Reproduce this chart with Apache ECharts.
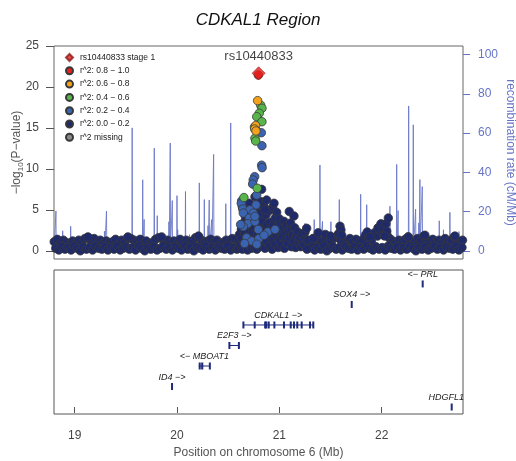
<!DOCTYPE html>
<html>
<head>
<meta charset="utf-8">
<script src="https://cdn.jsdelivr.net/npm/echarts@6/dist/echarts.min.js"></script>
<style>html,body{margin:0;padding:0;background:#fff}#c{width:516px;height:461px}</style>
</head>
<body>
<div id="c"></div>
<script>
// ---------- data ----------
const chartTitle = 'CDKAL1 Region';
const leadSnp = 'rs10440833';
const leadLegend = 'rs10440833 stage 1';
const xTicks = [19, 20, 21, 22];
const yTicks = [0, 5, 10, 15, 20, 25];
const recTicks = [0, 20, 40, 60, 80, 100];
const legendNames = ['r^2: 0.8 \u2212 1.0', 'r^2: 0.6 \u2212 0.8', 'r^2: 0.4 \u2212 0.6', 'r^2: 0.2 \u2212 0.4', 'r^2: 0.0 \u2212 0.2', 'r^2 missing'];

// recombination rate (cM/Mb) along position (Mb)
const recombPos = [18.800,18.814,18.817,18.820,18.880,18.883,18.886,18.958,18.961,18.964,19.288,19.291,19.294,19.308,19.311,19.314,19.559,19.562,19.565,19.662,19.665,19.668,19.676,19.679,19.682,19.708,19.711,19.714,19.775,19.778,19.781,19.804,19.807,19.810,19.918,19.921,19.924,19.931,19.934,19.937,19.951,19.954,19.957,19.997,20.000,20.003,20.007,20.010,20.080,20.083,20.086,20.119,20.122,20.125,20.215,20.218,20.221,20.264,20.267,20.270,20.300,20.303,20.306,20.312,20.315,20.318,20.336,20.339,20.342,20.355,20.358,20.361,20.474,20.477,20.480,20.522,20.525,20.528,20.588,20.591,20.594,20.700,20.900,21.100,21.248,21.251,21.254,21.303,21.306,21.309,21.338,21.341,21.344,21.394,21.397,21.400,21.419,21.422,21.425,21.436,21.439,21.442,21.465,21.468,21.471,21.501,21.504,21.507,21.583,21.586,21.589,21.792,21.795,21.798,21.851,21.854,21.857,21.915,21.918,21.921,22.078,22.081,22.084,22.144,22.147,22.150,22.158,22.161,22.164,22.261,22.264,22.267,22.306,22.309,22.312,22.329,22.332,22.335,22.360,22.363,22.366,22.371,22.374,22.377,22.394,22.397,22.400,22.560,22.563,22.566,22.601,22.604,22.607,22.664,22.667,22.670,22.752,22.755,22.758,22.795];
const recombRate = [0.5,0.6,20.3,0.4,0.5,10.2,0.6,0.4,12.5,0.5,0.7,10.0,0.8,0.6,20.2,0.5,0.8,62.6,0.7,0.9,36.2,1.5,1.2,16.0,0.8,0.6,6.8,0.5,0.9,52.3,1.0,0.8,17.9,0.6,0.7,14.8,1.0,1.1,54.9,1.3,1.0,25.6,0.9,0.8,28.1,2.0,10.7,0.7,0.9,30.2,0.8,0.6,8.2,0.5,0.9,34.6,0.8,0.7,26.1,0.9,0.8,12.8,1.2,1.5,25.9,1.1,0.9,15.9,1.4,1.2,49.1,0.9,0.7,24.0,0.8,0.9,65.1,1.0,0.6,14.5,0.5,0.3,0.4,0.5,0.6,14.0,0.7,0.5,6.3,0.6,0.8,15.9,1.0,1.1,43.7,1.2,0.9,15.0,1.1,0.8,9.4,0.7,0.9,10.0,0.8,0.7,14.8,0.9,1.0,26.1,0.8,0.9,28.8,1.1,0.8,23.5,0.7,0.6,8.9,0.7,1.0,22.7,1.2,1.3,44.0,2.0,1.8,20.5,1.1,1.5,73.8,2.2,1.8,64.2,2.0,1.7,21.2,1.4,1.2,14.2,1.9,2.2,36.3,2.5,2.0,32.7,1.3,0.9,15.3,1.0,0.8,10.7,0.9,1.1,19.6,0.8,0.7,9.8,0.6,0.5];

// SNPs, r^2 0.0-0.2 (navy): [position Mb, -log10 P]
const navyUpper = [[18.80,1.1],[18.83,1.4],[18.86,0.9],[18.89,1.3],[18.92,1.0],[18.95,0.8],[18.98,1.2],[19.01,1.0],[19.04,1.3],[19.07,0.9],[19.10,1.5],[19.13,1.6],[19.16,1.2],[19.19,1.5],[19.22,1.0],[19.25,1.3],[19.28,0.9],[19.31,1.2],[19.34,1.0],[19.37,1.1],[19.40,1.4],[19.43,0.8],[19.46,1.3],[19.49,1.0],[19.52,1.6],[19.55,1.5],[19.58,1.3],[19.61,1.1],[19.64,1.4],[19.67,1.0],[19.70,1.2],[19.73,0.9],[19.76,1.0],[19.79,1.4],[19.82,1.6],[19.85,1.5],[19.88,1.1],[19.91,1.3],[19.94,1.0],[19.97,1.2],[20.00,0.9],[20.03,1.4],[20.06,1.0],[20.09,1.3],[20.12,1.1],[20.15,1.2],[20.18,1.6],[20.21,1.7],[20.24,1.3],[20.27,1.0],[20.30,1.2],[20.33,1.4],[20.36,1.1],[20.39,1.3],[20.42,0.9],[20.45,1.0],[20.48,1.3],[20.51,1.2],[20.54,1.5],[20.57,1.4],[21.30,1.2],[21.33,1.5],[21.36,1.0],[21.39,1.3],[21.42,1.1],[21.45,1.4],[21.48,1.0],[21.51,1.2],[21.54,1.6],[21.57,1.9],[21.60,1.3],[21.63,1.2],[21.66,1.0],[21.69,1.5],[21.72,1.1],[21.75,1.4],[21.78,1.0],[21.81,1.3],[21.84,1.9],[21.87,1.6],[21.90,1.2],[21.93,2.2],[21.96,1.8],[21.99,2.4],[22.02,1.9],[22.05,2.0],[22.08,1.5],[22.11,1.2],[22.14,1.0],[22.17,1.3],[22.20,1.1],[22.23,1.4],[22.26,1.7],[22.29,1.2],[22.32,1.0],[22.35,1.5],[22.38,1.2],[22.41,1.8],[22.44,1.3],[22.47,1.0],[22.50,1.4],[22.53,1.1],[22.56,1.3],[22.59,1.0],[22.62,1.5],[22.65,1.2],[22.68,1.3],[22.71,1.7],[22.74,1.2],[22.77,1.0],[22.79,1.3]];
const navyLower = [[18.815,0.3],[18.845,0.1],[18.875,0.5],[18.905,0.2],[18.935,0.4],[18.965,0.1],[18.995,0.6],[19.025,0.3],[19.055,0.0],[19.085,0.5],[19.115,0.2],[19.145,0.4],[19.175,0.1],[19.205,0.6],[19.235,0.3],[19.265,0.2],[19.295,0.5],[19.325,0.1],[19.355,0.4],[19.385,0.2],[19.415,0.6],[19.445,0.1],[19.475,0.3],[19.505,0.5],[19.535,0.2],[19.565,0.4],[19.595,0.1],[19.625,0.6],[19.655,0.3],[19.685,0.0],[19.715,0.4],[19.745,0.2],[19.775,0.5],[19.805,0.1],[19.835,0.3],[19.865,0.6],[19.895,0.2],[19.925,0.4],[19.955,0.1],[19.985,0.5],[20.015,0.3],[20.045,0.1],[20.075,0.6],[20.105,0.2],[20.135,0.4],[20.165,0.0],[20.195,0.5],[20.225,0.3],[20.255,0.1],[20.285,0.6],[20.315,0.2],[20.345,0.4],[20.375,0.1],[20.405,0.5],[20.435,0.3],[20.465,0.2],[20.495,0.6],[20.525,0.1],[20.555,0.4],[20.585,0.2],[21.285,0.3],[21.315,0.5],[21.345,0.1],[21.375,0.4],[21.405,0.2],[21.435,0.6],[21.465,0.0],[21.495,0.3],[21.525,0.5],[21.555,0.2],[21.585,0.4],[21.615,0.1],[21.645,0.6],[21.675,0.3],[21.705,0.2],[21.735,0.5],[21.765,0.1],[21.795,0.4],[21.825,0.2],[21.855,0.6],[21.885,0.3],[21.915,0.1],[21.945,0.5],[21.975,0.2],[22.005,0.4],[22.035,0.1],[22.065,0.6],[22.095,0.3],[22.125,0.2],[22.155,0.5],[22.185,0.1],[22.215,0.4],[22.245,0.2],[22.275,0.6],[22.305,0.3],[22.335,0.0],[22.365,0.4],[22.395,0.2],[22.425,0.5],[22.455,0.1],[22.485,0.3],[22.515,0.6],[22.545,0.2],[22.575,0.4],[22.605,0.1],[22.635,0.5],[22.665,0.3],[22.695,0.2],[22.725,0.6],[22.755,0.1],[22.785,0.4]];
const navyPeak = [[20.60,1.2],[20.60,0.3],[20.61,2.0],[20.62,0.8],[20.63,2.6],[20.63,1.5],[20.64,0.2],[20.65,3.4],[20.65,1.0],[20.66,2.2],[20.67,0.5],[20.67,4.1],[20.68,1.7],[20.69,2.9],[20.69,0.1],[20.70,3.8],[20.70,1.3],[20.71,2.4],[20.71,0.6],[20.72,4.5],[20.72,1.9],[20.73,3.1],[20.73,0.3],[20.74,5.2],[20.74,2.5],[20.75,1.1],[20.75,3.9],[20.76,0.4],[20.76,2.8],[20.77,4.8],[20.77,1.6],[20.78,3.4],[20.78,0.2],[20.79,5.6],[20.79,2.1],[20.80,1.0],[20.80,4.2],[20.81,3.0],[20.81,0.5],[20.82,6.0],[20.82,1.8],[20.83,4.6],[20.83,2.7],[20.84,0.9],[20.84,3.6],[20.85,5.4],[20.85,1.4],[20.86,2.5],[20.86,0.3],[20.87,4.4],[20.876,6.2],[20.88,3.2],[20.88,1.1],[20.89,2.0],[20.90,4.9],[20.90,0.6],[20.91,3.5],[20.92,1.7],[20.92,2.8],[20.935,5.3],[20.93,0.2],[20.941,3.15],[20.94,1.3],[20.948,5.8],[20.95,2.3],[20.96,4.0],[20.96,0.8],[20.974,4.7],[20.97,1.9],[20.98,3.0],[20.99,0.4],[20.99,2.4],[21.00,3.9],[21.00,1.2],[21.01,2.7],[21.02,0.7],[21.02,3.3],[21.03,1.8],[21.04,2.9],[21.045,3.6],[21.05,0.3],[21.06,2.2],[21.07,1.4],[21.07,3.1],[21.08,0.9],[21.09,2.5],[21.097,4.8],[21.10,1.6],[21.11,3.4],[21.12,0.5],[21.12,2.6],[21.13,1.9],[21.143,4.25],[21.14,1.1],[21.15,2.8],[21.16,0.4],[21.17,1.8],[21.18,2.3],[21.19,1.0],[21.20,1.6],[21.21,0.5],[21.22,2.0],[21.23,1.2],[21.24,0.7],[21.251,2.3],[21.26,1.4],[21.267,2.75],[21.27,0.2],[21.28,1.3],[20.827,7.5],[20.762,6.6],[20.86,5.0],[20.706,5.8]];
const navyRight = [[21.332,1.5],[21.38,2.2],[21.45,2.0],[21.50,1.8],[21.58,2.1],[21.593,3.0],[21.602,2.55],[21.61,1.9],[21.859,2.3],[21.886,1.7],[21.964,2.8],[21.993,3.3],[22.016,2.75],[22.042,3.3],[22.065,4.0],[22.05,2.4],[22.03,1.8],[22.26,1.7],[22.423,1.9],[22.716,1.8],[19.13,1.7],[19.52,1.7],[19.85,1.7],[20.21,1.8]];

// SNPs by r^2 bin
const blueSnps = [[20.824,14.42],[20.830,12.83],[20.827,10.45],[20.832,10.15],[20.759,9.05],[20.745,8.65],[20.739,8.15],[20.779,6.8],[20.772,5.6],[20.632,6.1],[20.638,5.4],[20.628,5.8],[20.642,5.1],[20.713,5.0],[20.648,4.6],[20.745,4.6],[20.706,4.0],[20.691,3.3],[20.762,3.55],[20.648,2.95],[20.794,2.6],[20.622,3.2],[20.762,4.2],[20.886,2.3],[20.958,2.6],[20.68,1.6],[20.73,1.2],[20.80,1.5],[20.66,0.9],[20.78,0.8],[20.85,1.9]];
const greenSnps = [[20.818,17.77],[20.830,17.4],[20.804,16.79],[20.779,16.37],[20.830,15.76],[20.757,15.1],[20.762,13.74],[20.769,13.4],[20.784,7.63],[20.654,6.5]];
const orangeSnps = [[20.788,18.33],[20.769,15.28],[20.759,14.87],[20.772,14.63]];
const redSnps = [[20.795,21.45]];
const graySnps = [];
const leadPoint = [[20.798,21.67]];

// genes
const geneLabels = ['<\u2212 PRL', 'SOX4 \u2212>', 'CDKAL1 \u2212>', 'E2F3 \u2212>', '<\u2212 MBOAT1', 'ID4 \u2212>', 'HDGFL1'];
const geneStart = [22.399, 21.705, 20.646, 20.510, 20.212, 19.950, 22.683];
const geneEnd = [22.403, 21.710, 21.334, 20.607, 20.323, 19.953, 22.686];
const geneRow = [6, 5, 4, 3, 2, 1, 0];
const geneExons = [
  [[22.399,22.403]],
  [[21.705,21.710]],
  [[20.646,20.652],[20.758,20.761],[20.857,20.866],[20.870,20.876],[20.895,20.898],[20.950,20.953],[21.044,21.047],[21.110,21.113],[21.142,21.145],[21.174,21.177],[21.217,21.220],[21.298,21.301],[21.330,21.334]],
  [[20.510,20.514],[20.603,20.607]],
  [[20.212,20.232],[20.236,20.257],[20.319,20.323]],
  [[19.950,19.953]],
  [[22.683,22.686]]
];

// ---------- chart ----------
const FONT = '"Liberation Sans", Arial, Helvetica, sans-serif';
const XMIN = 18.798, XMAX = 22.795;
const navy = '#1f2a6b', blue = '#3a64b2', green = '#58b54a', orange = '#f4a21c', red = '#e5201d', gray = '#8a8a8a';
const recColor = '#6674c6';
const geneColor = '#1e2a7c';

const measureCtx = document.createElement('canvas').getContext('2d');

const chart = echarts.init(document.getElementById('c'), null, {renderer: 'canvas'});

function snpSeries(name, data, color) {
  return {
    type: 'scatter', name: name, xAxisIndex: 0, yAxisIndex: 0, data: data,
    symbol: 'circle', symbolSize: 8.5, z: 3,
    itemStyle: {color: color, borderColor: '#383838', borderWidth: 0.8, opacity: 1},
    emphasis: {disabled: true}
  };
}

const option = {
  animation: false,
  backgroundColor: '#fff',
  textStyle: {fontFamily: FONT},
  title: {
    text: chartTitle, left: 'center', top: 12, padding: 0,
    textStyle: {fontFamily: FONT, fontSize: 17, fontStyle: 'italic', fontWeight: 'normal', color: '#111'}
  },
  legend: {
    orient: 'vertical', left: 65, top: 53, padding: 0,
    itemWidth: 7, itemHeight: 7, itemGap: 4.3,
    textStyle: {fontFamily: FONT, fontSize: 8.5, color: '#222', padding: [0, 0, 0, 2]},
    data: [leadLegend].concat(legendNames),
    selectedMode: false
  },
  grid: [
    {left: 54, top: 46, width: 409, height: 213, show: true, borderColor: '#666', borderWidth: 1, backgroundColor: 'transparent', outerBoundsMode: 'none', containLabel: false},
    {left: 54, top: 270, width: 409, height: 144, show: true, borderColor: '#555', borderWidth: 1, backgroundColor: 'transparent', outerBoundsMode: 'none', containLabel: false}
  ],
  xAxis: [
    {type: 'value', gridIndex: 0, min: XMIN, max: XMAX, show: false},
    {type: 'value', gridIndex: 1, min: XMIN, max: XMAX,
      axisLine: {show: false},
      splitLine: {show: false},
      axisTick: {show: true, length: 6, lineStyle: {color: '#555'}, customValues: xTicks},
      axisLabel: {show: true, margin: 16, fontSize: 12, color: '#444', fontFamily: FONT, customValues: xTicks},
      name: 'Position on chromosome 6 (Mb)', nameLocation: 'middle', nameGap: 33, nameMoveOverlap: false,
      nameTextStyle: {fontSize: 12, color: '#555', fontFamily: FONT}
    }
  ],
  yAxis: [
    {type: 'value', gridIndex: 0, min: -1, max: 25, position: 'left',
      axisLine: {show: false}, splitLine: {show: false},
      axisTick: {show: true, length: 8, lineStyle: {color: '#555'}, customValues: yTicks},
      axisLabel: {show: true, margin: 15, fontSize: 12, color: '#444', fontFamily: FONT, customValues: yTicks},
      name: '\u2212log{sub|10}(P\u2212value)', nameLocation: 'middle', nameGap: 29, nameRotate: 90, nameMoveOverlap: false,
      nameTextStyle: {fontSize: 12, color: '#555', fontFamily: FONT,
        rich: {sub: {fontSize: 8, color: '#555', fontFamily: FONT, verticalAlign: 'bottom', lineHeight: 16}}}
    },
    {type: 'value', gridIndex: 0, min: -4.18, max: 104.33, position: 'right',
      axisLine: {show: false}, splitLine: {show: false},
      axisTick: {show: true, length: 7, lineStyle: {color: recColor}, customValues: recTicks},
      axisLabel: {show: true, margin: 15, fontSize: 12, color: recColor, fontFamily: FONT, customValues: recTicks},
      name: 'recombination rate (cM/Mb)', nameLocation: 'middle', nameGap: 41, nameRotate: -90, nameMoveOverlap: false,
      nameTextStyle: {fontSize: 12, color: recColor, fontFamily: FONT}
    },
    {type: 'value', gridIndex: 1, min: -0.34, max: 6.68, show: false}
  ],
  series: [
    {
      type: 'line', name: 'recomb', xAxisIndex: 0, yAxisIndex: 1,
      data: recombPos.map((p, i) => [p, recombRate[i]]),
      showSymbol: false, symbol: 'none', z: 1,
      lineStyle: {color: recColor, width: 1, opacity: 0.85},
      emphasis: {disabled: true}
    },
    snpSeries(legendNames[4], navyUpper.concat(navyLower, navyPeak, navyRight), navy),
    snpSeries(legendNames[3], blueSnps, blue),
    snpSeries(legendNames[2], greenSnps, green),
    snpSeries(legendNames[1], orangeSnps, orange),
    snpSeries(legendNames[0], redSnps, red),
    snpSeries(legendNames[5], graySnps, gray),
    {
      type: 'scatter', name: leadLegend, xAxisIndex: 0, yAxisIndex: 0, data: leadPoint,
      symbol: 'diamond', symbolSize: 13, z: 4,
      itemStyle: {color: red, borderColor: '#8b1a1a', borderWidth: 0.8},
      label: {show: true, position: 'top', distance: 3, formatter: leadSnp,
        fontSize: 13, color: '#111', fontFamily: FONT},
      emphasis: {disabled: true}
    },
    {
      type: 'custom', name: 'genes', xAxisIndex: 1, yAxisIndex: 2, z: 2,
      data: geneStart.map((s, i) => [s, geneEnd[i], geneRow[i], i]),
      encode: {x: [0, 1], y: 2},
      renderItem: function (params, api) {
        const i = api.value(3);
        const row = geneRow[i];
        const s = api.coord([geneStart[i], row]);
        const e = api.coord([geneEnd[i], row]);
        const children = [];
        children.push({type: 'line', shape: {x1: s[0], y1: s[1], x2: e[0], y2: e[1]},
          style: {stroke: geneColor, lineWidth: 1}});
        geneExons[i].forEach(function (ex) {
          const a = api.coord([ex[0], row])[0];
          const b = api.coord([ex[1], row])[0];
          const w = Math.max(b - a, 2);
          const cx = (a + b) / 2;
          children.push({type: 'rect', shape: {x: cx - w / 2, y: s[1] - 3.5, width: w, height: 7},
            style: {fill: geneColor}});
        });
        const font = 'italic 9px ' + FONT;
        measureCtx.font = font;
        const tw = measureCtx.measureText(geneLabels[i]).width;
        let lx = (s[0] + e[0]) / 2;
        const rightEdge = params.coordSys.x + params.coordSys.width + 1;
        if (lx + tw / 2 > rightEdge) lx = rightEdge - tw / 2;
        children.push({type: 'text', style: {text: geneLabels[i], x: lx, y: s[1] - 5,
          align: 'center', verticalAlign: 'bottom', font: font, fill: '#222'}});
        return {type: 'group', children: children};
      }
    }
  ]
};
chart.setOption(option);
</script>
</body>
</html>
